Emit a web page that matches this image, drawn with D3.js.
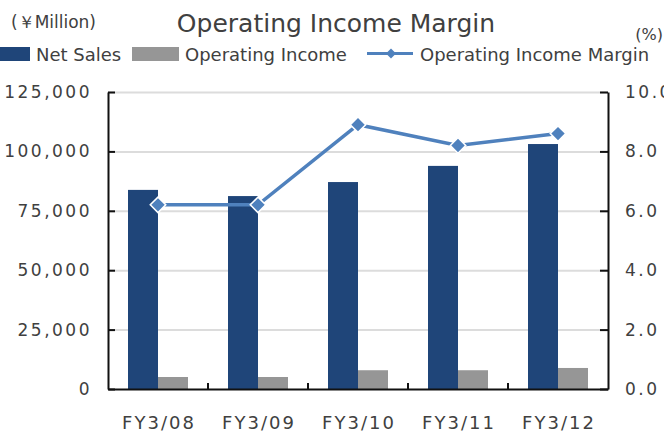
<!DOCTYPE html>
<html>
<head>
<meta charset="utf-8">
<script src="https://cdn.jsdelivr.net/npm/d3@7"></script>
<style>
  body { margin: 0; background: #fff; }
  text { font-family: "DejaVu Sans", sans-serif; fill: #404040; }
</style>
</head>
<body>
<svg id="chart" width="664" height="432"></svg>
<script>
const years = ["FY3/08", "FY3/09", "FY3/10", "FY3/11", "FY3/12"];
const netSales = [83800, 81200, 87100, 93900, 103100];
const opIncome = [5050, 5050, 7900, 7900, 8850];
const opMargin = [6.2, 6.2, 8.9, 8.2, 8.6];
const leftTicks = [0, 25000, 50000, 75000, 100000, 125000];
const rightTicks = [0, 2, 4, 6, 8, 10];

const colors = { sales: "#1f4579", income: "#969696", margin: "#4f81bd" };

const svg = d3.select("#chart");
const plotL = 108, plotR = 608, plotT = 92, plotB = 389;

const x0 = d3.scaleBand().domain(years).range([plotL, plotR]);
const x1 = d3.scaleBand().domain(["sales", "income"])
  .range([0, x0.bandwidth()]).paddingOuter(0.667);
const yL = d3.scaleLinear().domain([0, 125000]).range([plotB, plotT]);
const yR = d3.scaleLinear().domain([0, 10]).range([plotB, plotT]);

// gridlines
svg.append("g")
  .attr("transform", "translate(" + plotL + ",0)")
  .call(d3.axisLeft(yL).tickValues(leftTicks.slice(1)).tickSize(-(plotR - plotL)).tickFormat(""))
  .call(g => g.select(".domain").remove())
  .call(g => g.selectAll("line").attr("stroke", "#dcdcdc").attr("stroke-width", 2));

// bars
const rows = years.map((y, i) => ({ year: y, sales: netSales[i], income: opIncome[i] }));
const groups = svg.append("g").selectAll("g").data(rows).enter().append("g")
  .attr("transform", d => "translate(" + x0(d.year) + ",0)");
groups.selectAll("rect")
  .data(d => ["sales", "income"].map(k => ({ key: k, value: d[k] })))
  .enter().append("rect")
  .attr("x", d => x1(d.key))
  .attr("width", x1.bandwidth())
  .attr("y", d => yL(d.value))
  .attr("height", d => plotB - yL(d.value))
  .attr("fill", d => colors[d.key]);

// axes
const axisL = svg.append("g")
  .attr("transform", "translate(" + plotL + ",0)")
  .call(d3.axisLeft(yL).tickValues(leftTicks).tickSize(-7).tickSizeOuter(0)
    .tickPadding(16).tickFormat(d3.format(",")));
const axisR = svg.append("g")
  .attr("transform", "translate(" + plotR + ",0)")
  .call(d3.axisRight(yR).tickValues(rightTicks).tickSize(-8).tickSizeOuter(0)
    .tickPadding(17).tickFormat(d3.format(".1f")));
[axisL, axisR].forEach(a => {
  a.select(".domain").attr("stroke", "#111").attr("stroke-width", 2);
  a.selectAll("line").attr("stroke", "#111").attr("stroke-width", 2);
  a.selectAll("text").attr("font-size", 17).attr("letter-spacing", "2.5px")
    .attr("fill", "#404040").attr("font-family", "DejaVu Sans");
});

const axisB = svg.append("g")
  .attr("transform", "translate(0," + plotB + ")")
  .call(d3.axisBottom(x0).tickSize(0).tickSizeOuter(0).tickPadding(27));
axisB.select(".domain").attr("stroke", "#111").attr("stroke-width", 2);
axisB.selectAll("text").attr("font-size", 18).attr("letter-spacing", "2px")
  .attr("dx", "1px").attr("fill", "#404040").attr("font-family", "DejaVu Sans");

// category divider ticks
svg.append("g").selectAll("line")
  .data(years.slice(1)).enter().append("line")
  .attr("x1", d => x0(d)).attr("x2", d => x0(d))
  .attr("y1", plotB).attr("y2", plotB - 6)
  .attr("stroke", "#111").attr("stroke-width", 2);

// margin line
const cx = d => x0(d) + x0.bandwidth() / 2;
const line = d3.line().x((d, i) => cx(years[i])).y(d => yR(d));
svg.append("path").datum(opMargin)
  .attr("d", line).attr("fill", "none")
  .attr("stroke", colors.margin).attr("stroke-width", 3.5);
svg.append("g").selectAll("path").data(opMargin).enter().append("path")
  .attr("d", d3.symbol(d3.symbolSquare, 120))
  .attr("transform", (d, i) => "translate(" + cx(years[i]) + "," + yR(d) + ") rotate(45)")
  .attr("fill", colors.margin).attr("stroke", "#fff").attr("stroke-width", 1.5);

// titles
svg.append("text").attr("x", 336).attr("y", 32).attr("text-anchor", "middle")
  .attr("font-size", 25).text("Operating Income Margin");
svg.append("text").attr("x", 11).attr("y", 28).attr("font-size", 17)
  .text("(￥Million)");
svg.append("text").attr("x", 663).attr("y", 40).attr("text-anchor", "end")
  .attr("font-size", 16).text("(%)");

// legend
const legend = svg.append("g").attr("font-size", 18);
legend.append("rect").attr("x", -16).attr("y", 47).attr("width", 46).attr("height", 14)
  .attr("fill", colors.sales);
legend.append("text").attr("x", 36).attr("y", 61).text("Net Sales");
legend.append("rect").attr("x", 132).attr("y", 47).attr("width", 47).attr("height", 14)
  .attr("fill", colors.income);
legend.append("text").attr("x", 185).attr("y", 61).text("Operating Income");
legend.append("line").attr("x1", 367).attr("x2", 413).attr("y1", 53.5).attr("y2", 53.5)
  .attr("stroke", colors.margin).attr("stroke-width", 3);
legend.append("path").attr("d", d3.symbol(d3.symbolSquare, 50))
  .attr("transform", "translate(391,53.5) rotate(45)").attr("fill", colors.margin);
legend.append("text").attr("x", 420).attr("y", 61).text("Operating Income Margin");
</script>
</body>
</html>
